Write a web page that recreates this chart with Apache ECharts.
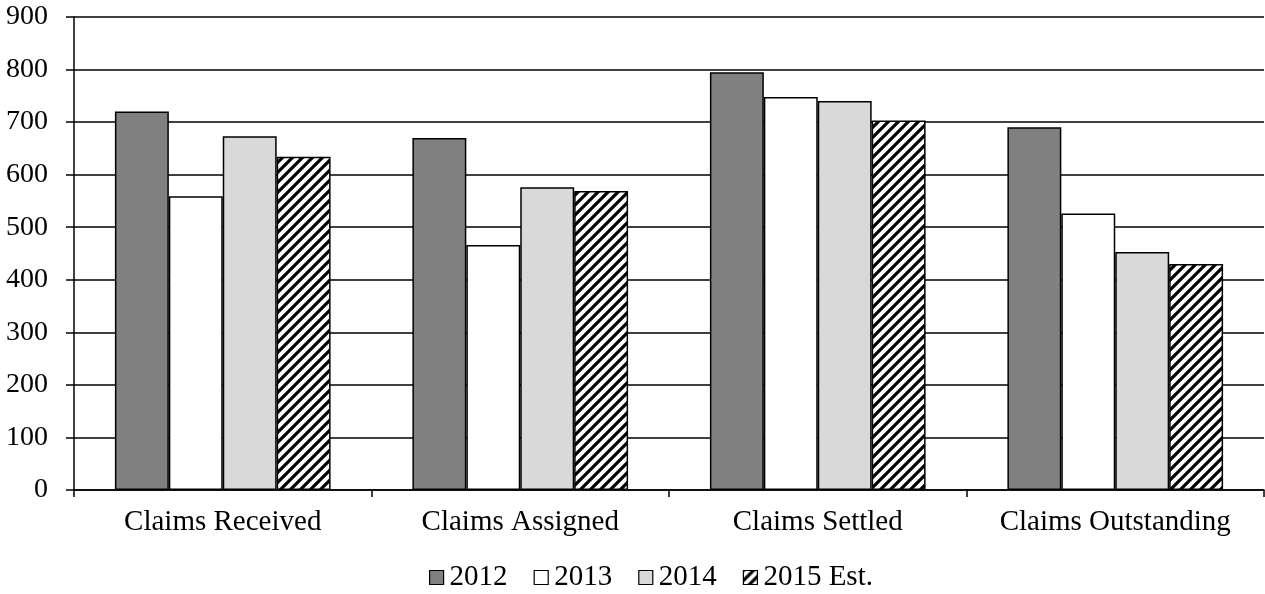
<!DOCTYPE html>
<html>
<head>
<meta charset="utf-8">
<script src="https://cdn.jsdelivr.net/npm/echarts@6/dist/echarts.min.js"></script>
<style>
  html, body { margin: 0; padding: 0; background: #fff; }
  #chart { width: 1265px; height: 594px; }
</style>
</head>
<body>
<div id="chart"></div>
<script>
// Claims by stage, per year
const categories = ['Claims Received', 'Claims Assigned', 'Claims Settled', 'Claims Outstanding'];
const seriesNames = ['2012', '2013', '2014', '2015 Est.'];
const values2012 = [720, 670, 795, 690];
const values2013 = [559, 466, 748, 526];
const values2014 = [673, 576, 740, 453];
const values2015 = [634, 569, 703, 430];
const yTicks = { min: 0, max: 900, interval: 100 };

// Diagonal hatch tile for the estimate series
function hatchPattern() {
  const s = 10;
  const c = document.createElement('canvas');
  c.width = s; c.height = s;
  const g = c.getContext('2d');
  g.fillStyle = '#fff';
  g.fillRect(0, 0, s, s);
  g.strokeStyle = '#000';
  g.lineWidth = 3.2;
  g.beginPath();
  g.moveTo(-2, 2); g.lineTo(2, -2);
  g.moveTo(0, s); g.lineTo(s, 0);
  g.moveTo(s - 2, s + 2); g.lineTo(s + 2, s - 2);
  g.stroke();
  return { image: c, repeat: 'repeat' };
}

const fills = ['#808080', '#ffffff', '#d9d9d9', hatchPattern()];
const dataSets = [values2012, values2013, values2014, values2015];
const font = '"Liberation Serif", "Times New Roman", serif';

const chart = echarts.init(document.getElementById('chart'), null, { renderer: 'canvas' });
chart.setOption({
  animation: false,
  backgroundColor: '#fff',
  textStyle: { fontFamily: font, color: '#000' },
  grid: { left: 74, right: 1, top: 17, bottom: 104, containLabel: false },
  legend: {
    top: 558,
    left: 424,
    icon: 'rect',
    itemWidth: 14,
    itemHeight: 14,
    itemGap: 26,
    itemStyle: { borderColor: '#000', borderWidth: 1.2 },
    textStyle: { fontFamily: font, fontSize: 29, color: '#000', padding: [0, 0, 0, 1] },
    data: seriesNames
  },
  xAxis: {
    type: 'category',
    data: categories,
    axisLine: { lineStyle: { color: '#000', width: 1.5 } },
    axisTick: { show: true, interval: 0, length: 7, inside: false, lineStyle: { color: '#000', width: 1.5 } },
    axisLabel: { interval: 0, fontFamily: font, fontSize: 29, color: '#000', margin: 18 }
  },
  yAxis: {
    type: 'value',
    min: yTicks.min,
    max: yTicks.max,
    interval: yTicks.interval,
    axisLine: { show: true, lineStyle: { color: '#000', width: 1.5 } },
    axisTick: { show: true, length: 8, lineStyle: { color: '#000', width: 1.5 } },
    axisLabel: { fontFamily: font, fontSize: 28, color: '#000', margin: 26 },
    splitLine: { lineStyle: { color: '#000', width: 1.5 } }
  },
  series: seriesNames.map((name, i) => ({
    name: name,
    type: 'bar',
    data: dataSets[i],
    barGap: '0%',
    barCategoryGap: '27.5%',
    itemStyle: { color: fills[i], borderColor: '#000', borderWidth: 1.5 }
  }))
});
</script>
</body>
</html>
